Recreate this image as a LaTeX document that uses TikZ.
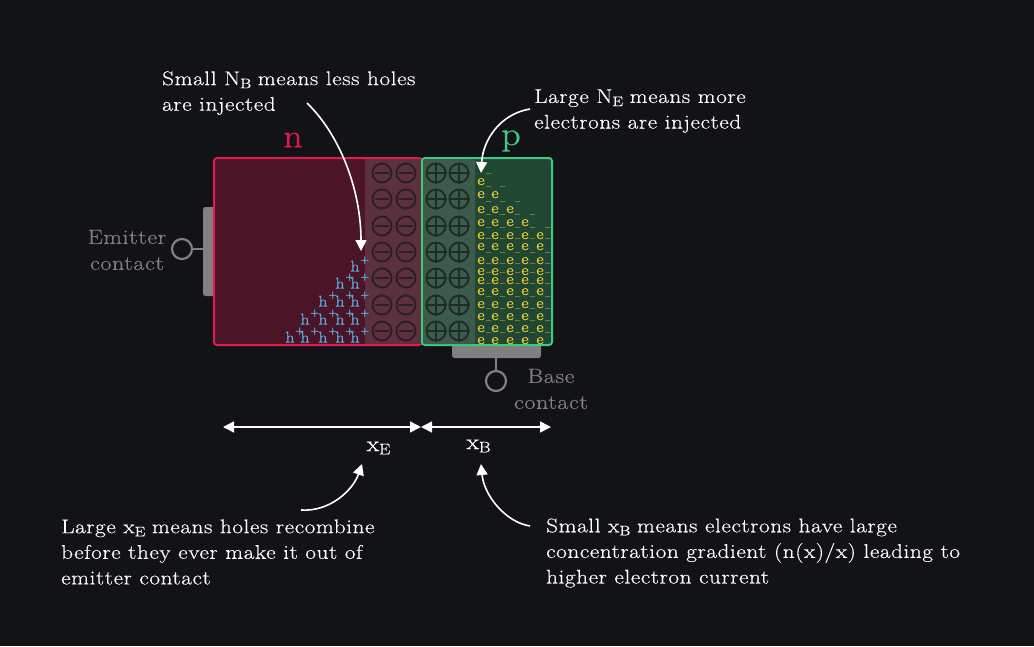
\documentclass[tikz,border=0pt]{standalone}
\usepackage{fontspec}
\setmainfont{Latin Modern Roman}[FakeStretch=1.17,LetterSpace=3,FakeBold=0.35]
\newfontfamily\heavyfont{Latin Modern Roman}[FakeStretch=1.15,FakeBold=0.9]
\newfontfamily\signfont{Latin Modern Roman}[FakeBold=1.2]
\usetikzlibrary{arrows.meta}
\definecolor{bg}{HTML}{121317}
\definecolor{nred}{HTML}{E6194F}
\definecolor{pgreen}{HTML}{3CCB7F}
\definecolor{nfill}{HTML}{4B1527}
\definecolor{pfill}{HTML}{1F4733}
\definecolor{ndep}{HTML}{5C313D}
\definecolor{pdep}{HTML}{3C5B4D}
\definecolor{ionn}{HTML}{2C2025}
\definecolor{ionp}{HTML}{1E2E27}
\definecolor{hblue}{HTML}{58B4E8}
\definecolor{eyel}{HTML}{F7D02E}
\definecolor{contactgray}{HTML}{808080}
\newcommand{\holetext}{h\rlap{\kern0.9pt\raisebox{8.5pt}{\fontsize{11}{11}\selectfont\signfont +}}}
\newcommand{\electext}{e\rlap{\kern0.6pt\raisebox{8.5pt}{\fontsize{9}{9}\selectfont$-$}}}
\tikzset{
  x=1pt,y=-1pt,
  note/.style={text=white,align=left,anchor=west,font=\fontsize{19.8}{25.6}\selectfont,inner sep=0pt},
  graytext/.style={text=contactgray,align=center,font=\fontsize{20.5}{26}\selectfont,inner sep=0pt},
  ionn/.style={circle,draw=ionn,line width=2pt,minimum size=19pt,inner sep=0pt},
  ionp/.style={circle,draw=ionp,line width=2pt,minimum size=19pt,inner sep=0pt},
  hlabel/.style={text=hblue,anchor=base,inner sep=0pt,font=\fontsize{15.5}{15.5}\selectfont\heavyfont},
  elabel/.style={text=eyel,anchor=base,inner sep=0pt,font=\fontsize{15.5}{15.5}\selectfont\heavyfont},
  ptr/.style={white,line width=1.6pt,-{Triangle[width=11pt,length=11pt]}},
  dim/.style={white,line width=1.6pt,{Triangle[width=11pt,length=11pt]}-{Triangle[width=11pt,length=11pt]}},
  term/.style={circle,draw=contactgray,line width=2.2pt,minimum size=20pt,inner sep=0pt},
  wire/.style={draw=contactgray,line width=2pt},
  bar/.style={fill=contactgray,rounded corners=2.5pt,draw=none},
}
\begin{document}
\begin{tikzpicture}
\path[use as bounding box,fill=bg] (0,0) rectangle (1034,646);
% contacts
\fill[bar] (203,207) rectangle (216,296);
\fill[bar] (452,344) rectangle (541,358);
% bodies
\draw[nred,line width=2pt,fill=nfill,rounded corners=3pt] (214,158) rectangle (422,345);
\fill[ndep] (365,159) rectangle (421,344);
\draw[pgreen,line width=2pt,fill=pfill,rounded corners=3pt] (422,158) rectangle (552,345);
\fill[pdep,rounded corners=2pt] (423,159) rectangle (475,344);
% ions
\foreach \y [count=\i] in {173,199,226,252,278,305,331}{
  \node[ionn] (ma\i) at (382,\y) {};
  \draw[ionn,line width=2pt] (375,\y) -- (389,\y);
  \node[ionn] (mb\i) at (406,\y) {};
  \draw[ionn,line width=2pt] (399,\y) -- (413,\y);
  \node[ionp] (pa\i) at (436,\y) {};
  \draw[ionp,line width=1.6pt] (pa\i.west) -- (pa\i.east) (pa\i.north) -- (pa\i.south);
  \node[ionp] (pb\i) at (459,\y) {};
  \draw[ionp,line width=1.6pt] (pb\i.west) -- (pb\i.east) (pb\i.north) -- (pb\i.south);
}
% holes
\foreach \y/\n [count=\r] in {266/1,283/2,301/3,319/4,337/5}{
  \foreach \x [count=\c] in {355,340,323,305,290}{
    \ifnum\c>\n\else
      \node[hlabel] (h\r-\c) at (\x,\y+5.5) {\holetext};
    \fi
  }
}
% electrons
\foreach \y/\n [count=\r] in {181/1,194/2,209/3,222/4,235/5,246/5,260/5,271/5,280/5,291/5,304/5,316/5,328/5,340/5}{
  \foreach \x [count=\c] in {481,495,510,525,540}{
    \ifnum\c>\n\else
      \node[elabel] (e\r-\c) at (\x,\y+4) {\electext};
    \fi
  }
}
% region letters
\node[text=nred,inner sep=0pt,font=\fontsize{33}{33}\selectfont\heavyfont] (nlabel) at (293,140) {n};
\node[text=pgreen,inner sep=0pt,font=\fontsize{33}{33}\selectfont\heavyfont] (plabel) at (511,141) {p};
% emitter / base terminals
\node[term] (et) at (182,249) {};
\coordinate (eb) at (203,249);
\draw[wire] (et) -- (eb);
\node[term] (bt) at (496,381) {};
\coordinate (bb) at (496,358);
\draw[wire] (bt) -- (bb);
\node[graytext] (etext) at (127,250) {Emitter\\contact};
\node[graytext] (btext) at (551,389) {Base\\contact};
% dimension arrows
\coordinate (d1) at (223,427);
\coordinate (d2) at (421,427);
\coordinate (d3) at (551,427);
\draw[dim] (d1) -- (d2);
\draw[dim] (d2) -- (d3);
\node[text=white,inner sep=0pt,font=\fontsize{22}{22}\selectfont\heavyfont] (xe) at (378,448) {x$_{\mathrm{E}}$};
\node[text=white,inner sep=0pt,font=\fontsize{22}{22}\selectfont\heavyfont] (xb) at (478,446) {x$_{\mathrm{B}}$};
% notes
\node[note] (n1) at (162,93) {Small N$_{\mathrm{B}}$ means less holes\\are injected};
\node[note] (n2) at (534,111) {Large N$_{\mathrm{E}}$ means more\\electrons are injected};
\node[note] (n3) at (61,552) {Large x$_{\mathrm{E}}$ means holes recombine\\before they ever make it out of\\emitter contact};
\node[note] (n4) at (546,553) {Small x$_{\mathrm{B}}$ means electrons have large\\concentration gradient (n(x)/x) leading to\\higher electron current};
% pointers
\coordinate (a1s) at (307,103);
\coordinate (a1e) at (361,251);
\draw[ptr] (a1s) .. controls (340,135) and (361,190) .. (a1e);
\coordinate (a2s) at (530,109);
\coordinate (a2e) at (481,173);
\draw[ptr] (a2s) .. controls (500,114) and (483,140) .. (a2e);
\coordinate (a3s) at (301,510);
\coordinate (a3e) at (362,464);
\draw[ptr] (a3s) .. controls (330,512) and (353,490) .. (a3e);
\coordinate (a4s) at (530,526);
\coordinate (a4e) at (481,464);
\draw[ptr] (a4s) .. controls (505,522) and (484,495) .. (a4e);
\end{tikzpicture}
\end{document}
